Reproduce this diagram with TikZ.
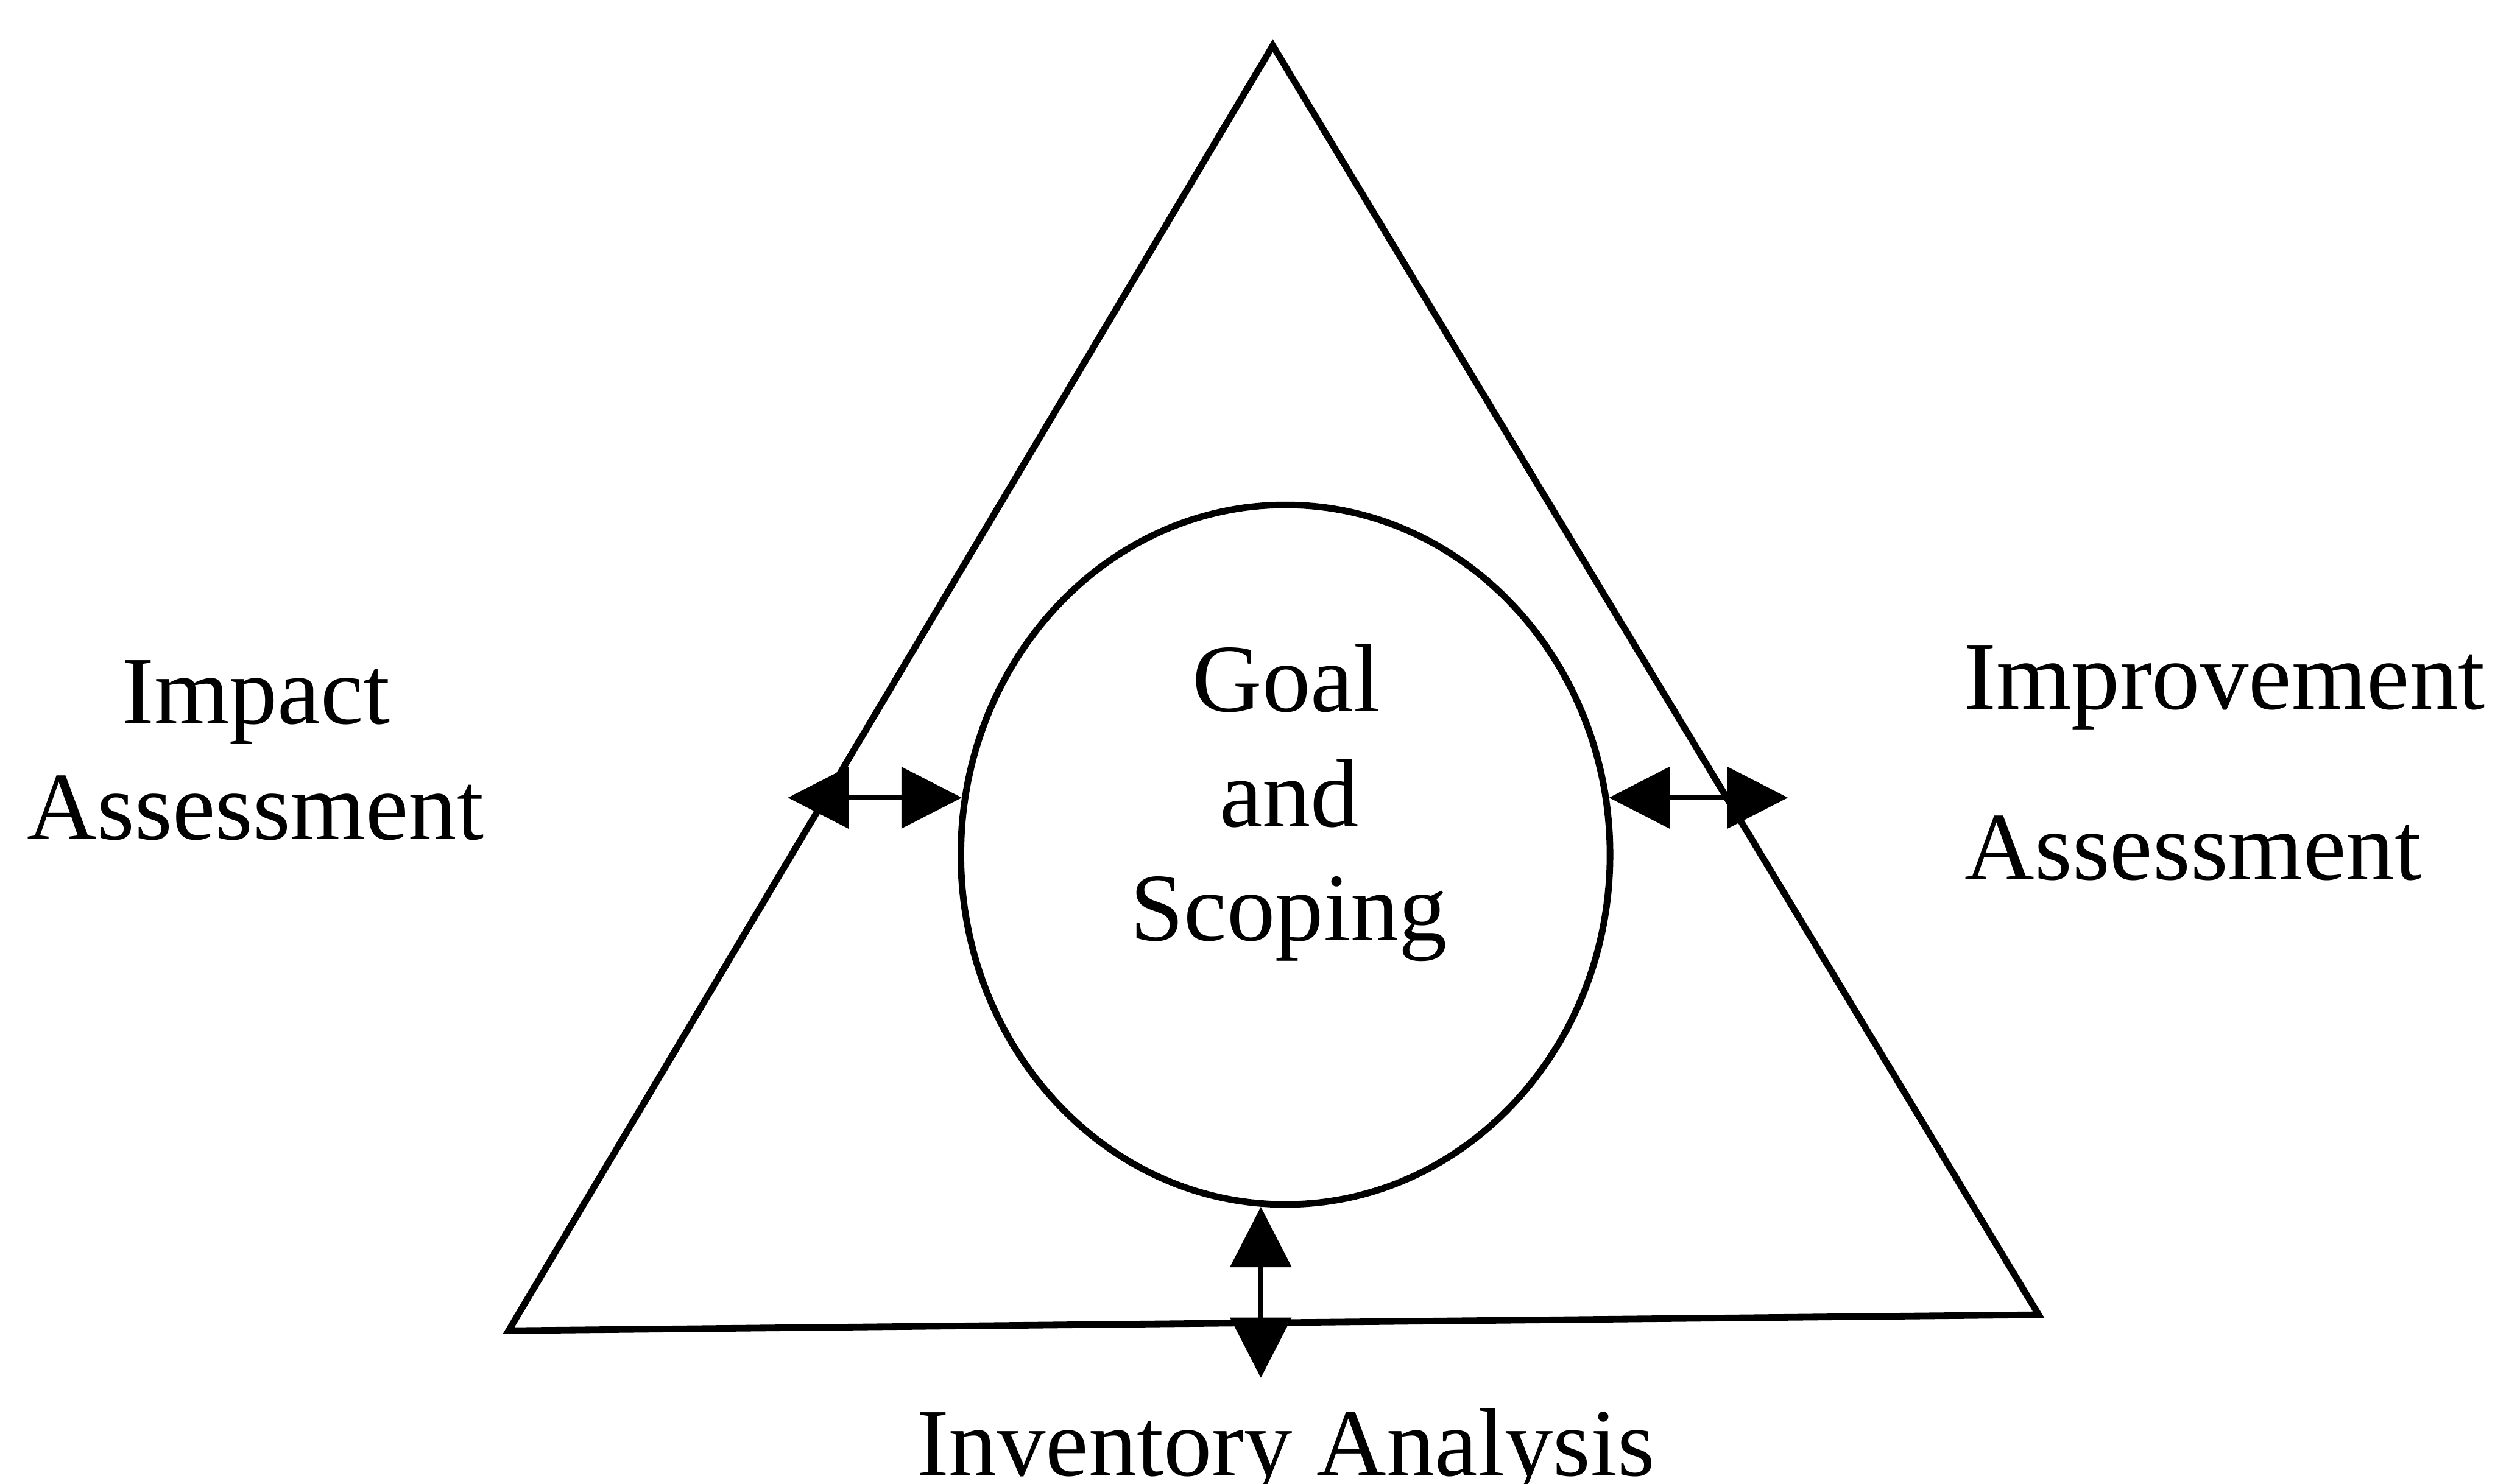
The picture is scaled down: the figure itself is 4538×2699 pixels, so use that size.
\documentclass[tikz,border=0pt]{standalone}
\usepackage{fontspec}
\setmainfont{Liberation Serif}
\usetikzlibrary{arrows.meta,shapes.geometric}
\begin{document}
\begin{tikzpicture}[x=0.01cm,y=-0.01cm,
  lbl/.style={font=\fontsize{50}{60}\selectfont, inner sep=0pt, anchor=base},
  edge/.style={line width=0.12cm},
  link/.style={line width=0.1cm, {Triangle[length=1.1cm,width=1.1cm]}-{Triangle[length=1.1cm,width=1.1cm]}}]
\useasboundingbox (0,0) rectangle (4538,2699);
% triangle
\coordinate (apex) at (2315,83);
\coordinate (bl) at (925,2421);
\coordinate (br) at (3708,2392);
\draw[edge] (apex) -- (bl) -- (br) -- cycle;
% central ellipse
\node[ellipse, draw, edge, minimum width=11.8cm, minimum height=12.72cm, inner sep=0pt] (goal) at (2338,1555) {};
% texts
\node[lbl] (goal1) at (2340,1295) {Goal};
\node[lbl] (goal2) at (2345,1504) {and};
\node[lbl] (goal3) at (2344,1711) {Scoping};
\node[lbl] (imp1) at (466,1317) {Impact};
\node[lbl] (imp2) at (465,1527) {Assessment};
\node[lbl] (impr1) at (4046,1290) {Improvement};
\node[lbl] (impr2) at (3989,1600) {Assessment};
\node[lbl] (inv) at (2339,2685) {Inventory Analysis};
% connectors
\coordinate (lt) at (1433,1455);
\coordinate (rt) at (3252,1444);
\coordinate (bt) at (2289,2507);
\draw[link] (lt |- goal.170.3) -- (goal.170.3);
\draw[link] (goal.10.82) -- (rt |- goal.10.82);
\draw[link] (goal.-94.4) -- (goal.-94.4 |- bt);
\end{tikzpicture}
\end{document}
